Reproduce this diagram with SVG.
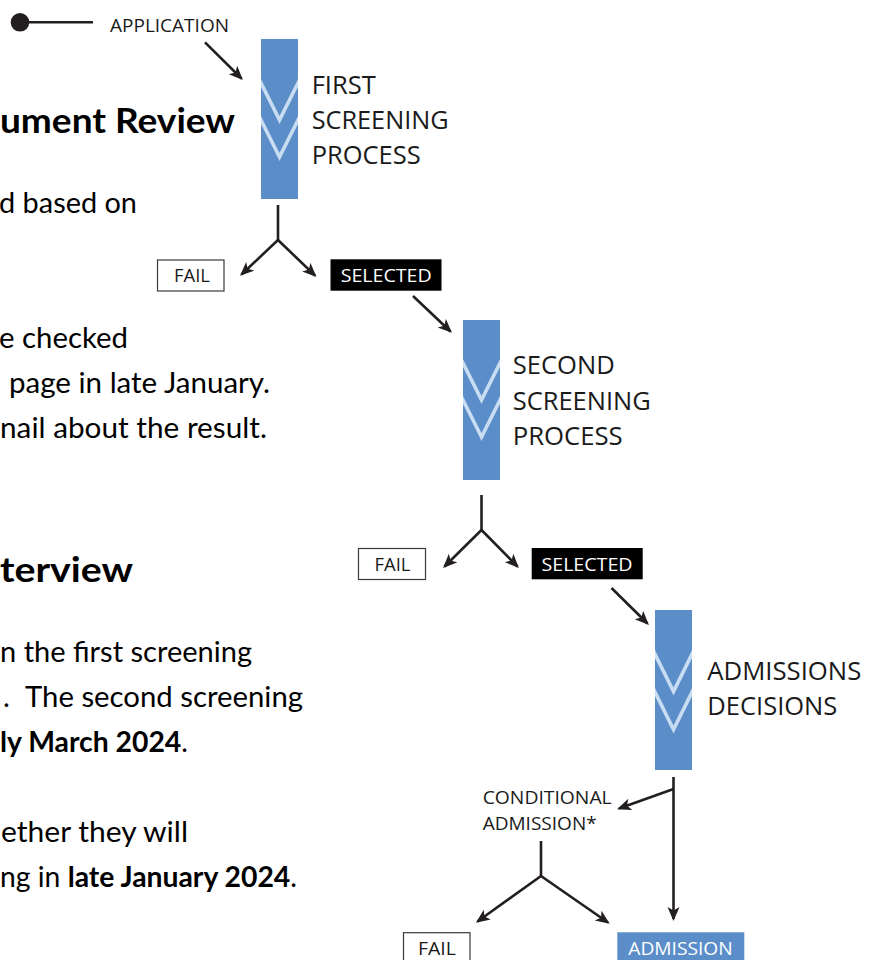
<svg xmlns="http://www.w3.org/2000/svg" width="877" height="960" viewBox="0 0 877 960">
<defs>
<style>
.bg{fill:#ffffff}
.bar{fill:#5b8dc9}
.chev{fill:none;stroke:#c9ddf2;stroke-width:3.6}
.lbl{font-family:"Open Sans","Noto Sans",sans-serif;fill:#1a1a1a}
.big{font-size:25px}
.mid{font-size:19px}
.sm{font-size:18px}
.wt{fill:#ffffff}
.box{fill:#ffffff;stroke:#3a3a3a;stroke-width:1.2}
.blk{fill:#000000}
.ln{fill:none;stroke:#231f20;stroke-width:2.6}
.ar{fill:none;stroke:#231f20;stroke-width:2.6;marker-end:url(#ah)}
.body{font-family:Lato,"Open Sans",sans-serif;font-size:29px;fill:#000000}
.bold{font-weight:bold}
.head{font-family:Lato,"Open Sans",sans-serif;font-size:35px;font-weight:bold;fill:#000000}
</style>
<marker id="ah" markerUnits="userSpaceOnUse" markerWidth="16" markerHeight="14" refX="12" refY="6" orient="auto">
<path d="M0,0 L14,6 L0,12 L3.5,6 Z" fill="#231f20"/>
</marker>
</defs>
<rect class="bg" x="0" y="0" width="877" height="960"/>

<g id="left-text">
<text class="head" x="0" y="133" textLength="235" lengthAdjust="spacingAndGlyphs">ument Review</text>
<text class="body" x="-1" y="213" textLength="138" lengthAdjust="spacingAndGlyphs">d based on</text>
<text class="body" x="-1" y="348" textLength="129" lengthAdjust="spacingAndGlyphs">e checked</text>
<text class="body" x="9" y="393" textLength="261" lengthAdjust="spacingAndGlyphs">page in late January.</text>
<text class="body" x="0" y="438" textLength="267" lengthAdjust="spacingAndGlyphs">nail about the result.</text>
<text class="head" x="0" y="582" textLength="133" lengthAdjust="spacingAndGlyphs">terview</text>
<text class="body" x="0" y="662" textLength="252" lengthAdjust="spacingAndGlyphs">n the first screening</text>
<text class="body" x="3" y="707">.</text>
<text class="body" x="25" y="707" textLength="278" lengthAdjust="spacingAndGlyphs">The second screening</text>
<text class="body" x="0" y="751.5" textLength="188" lengthAdjust="spacingAndGlyphs"><tspan class="bold">ly March 2024</tspan>.</text>
<text class="body" x="1" y="842" textLength="187" lengthAdjust="spacingAndGlyphs">ether they will</text>
<text class="body" x="0" y="887" textLength="297" lengthAdjust="spacingAndGlyphs">ng in <tspan class="bold">late January 2024</tspan>.</text>
</g>

<g id="connectors">
<line class="ln" x1="29" y1="22.3" x2="93" y2="22.3"/>
<line class="ar" x1="205" y1="42.3" x2="241.5" y2="78.5"/>
<line class="ln" x1="278" y1="205" x2="278" y2="240"/>
<polyline class="ar" points="278,240 241.5,274.5"/>
<polyline class="ar" points="278,240 315,275.5"/>
<line class="ar" x1="413" y1="296" x2="450.5" y2="331.5"/>
<line class="ln" x1="481.5" y1="495" x2="481.5" y2="530"/>
<polyline class="ar" points="481.5,530 444.5,566.5"/>
<polyline class="ar" points="481.5,530 517.5,566.5"/>
<line class="ar" x1="611.5" y1="588" x2="647.5" y2="623.5"/>
<line class="ar" x1="673.5" y1="777" x2="673.5" y2="919"/>
<line class="ar" x1="673.5" y1="789" x2="619" y2="808.5"/>
<line class="ln" x1="541" y1="841" x2="541" y2="876"/>
<polyline class="ar" points="541,876 477.5,921.5"/>
<polyline class="ar" points="541,876 608,922.5"/>
</g>

<g id="start">
<circle cx="20" cy="22.3" r="9.3" fill="#231f20"/>
</g>

<g id="application">
<text class="lbl mid" x="110" y="32" textLength="119" lengthAdjust="spacingAndGlyphs">APPLICATION</text>
</g>

<g id="first-screening">
<svg x="261" y="39" width="37" height="160">
<rect class="bar" x="0" y="0" width="37" height="160"/>
<polyline class="chev" points="-3,38 18.5,81 40,38"/>
<polyline class="chev" points="-3,75 18.5,118 40,75"/>
</svg>
<text class="lbl big" x="311.7" y="94" textLength="64" lengthAdjust="spacingAndGlyphs">FIRST</text>
<text class="lbl big" x="311.7" y="129" textLength="137" lengthAdjust="spacingAndGlyphs">SCREENING</text>
<text class="lbl big" x="311.7" y="164" textLength="109" lengthAdjust="spacingAndGlyphs">PROCESS</text>
</g>

<g id="fail-1">
<rect class="box" x="157.5" y="260" width="66.5" height="31"/>
<text class="lbl sm" x="174" y="282" textLength="36" lengthAdjust="spacingAndGlyphs">FAIL</text>
</g>

<g id="selected-1">
<rect class="blk" x="330.5" y="259.3" width="111" height="31.4"/>
<text class="lbl sm wt" x="340.7" y="282" textLength="91" lengthAdjust="spacingAndGlyphs">SELECTED</text>
</g>

<g id="second-screening">
<svg x="463" y="320" width="37" height="160">
<rect class="bar" x="0" y="0" width="37" height="160"/>
<polyline class="chev" points="-3,37 18.5,80 40,37"/>
<polyline class="chev" points="-3,74 18.5,117 40,74"/>
</svg>
<text class="lbl big" x="512.7" y="374" textLength="102" lengthAdjust="spacingAndGlyphs">SECOND</text>
<text class="lbl big" x="512.7" y="409.5" textLength="138" lengthAdjust="spacingAndGlyphs">SCREENING</text>
<text class="lbl big" x="512.7" y="444.5" textLength="110" lengthAdjust="spacingAndGlyphs">PROCESS</text>
</g>

<g id="fail-2">
<rect class="box" x="358.5" y="548.5" width="67" height="31"/>
<text class="lbl sm" x="374.5" y="571" textLength="36" lengthAdjust="spacingAndGlyphs">FAIL</text>
</g>

<g id="selected-2">
<rect class="blk" x="531.7" y="548" width="111" height="31.3"/>
<text class="lbl sm wt" x="541.5" y="571" textLength="91" lengthAdjust="spacingAndGlyphs">SELECTED</text>
</g>

<g id="admissions-decisions">
<svg x="655" y="610" width="37" height="160">
<rect class="bar" x="0" y="0" width="37" height="160"/>
<polyline class="chev" points="-3,38 18.5,81.5 40,38"/>
<polyline class="chev" points="-3,76 18.5,119.5 40,76"/>
</svg>
<text class="lbl big" x="707.3" y="680" textLength="154" lengthAdjust="spacingAndGlyphs">ADMISSIONS</text>
<text class="lbl big" x="707.3" y="715" textLength="130" lengthAdjust="spacingAndGlyphs">DECISIONS</text>
</g>

<g id="conditional-admission">
<text class="lbl mid" x="482.7" y="804" textLength="129" lengthAdjust="spacingAndGlyphs">CONDITIONAL</text>
<text class="lbl mid" x="482.7" y="830" textLength="114" lengthAdjust="spacingAndGlyphs">ADMISSION*</text>
</g>

<g id="fail-3">
<rect class="box" x="403.5" y="932.7" width="66.5" height="40"/>
<text class="lbl sm" x="418" y="955" textLength="38" lengthAdjust="spacingAndGlyphs">FAIL</text>
</g>

<g id="admission">
<rect class="bar" x="617.3" y="932.3" width="127" height="40"/>
<text class="lbl sm wt" x="628.3" y="955" textLength="104.4" lengthAdjust="spacingAndGlyphs">ADMISSION</text>
</g>
</svg>
